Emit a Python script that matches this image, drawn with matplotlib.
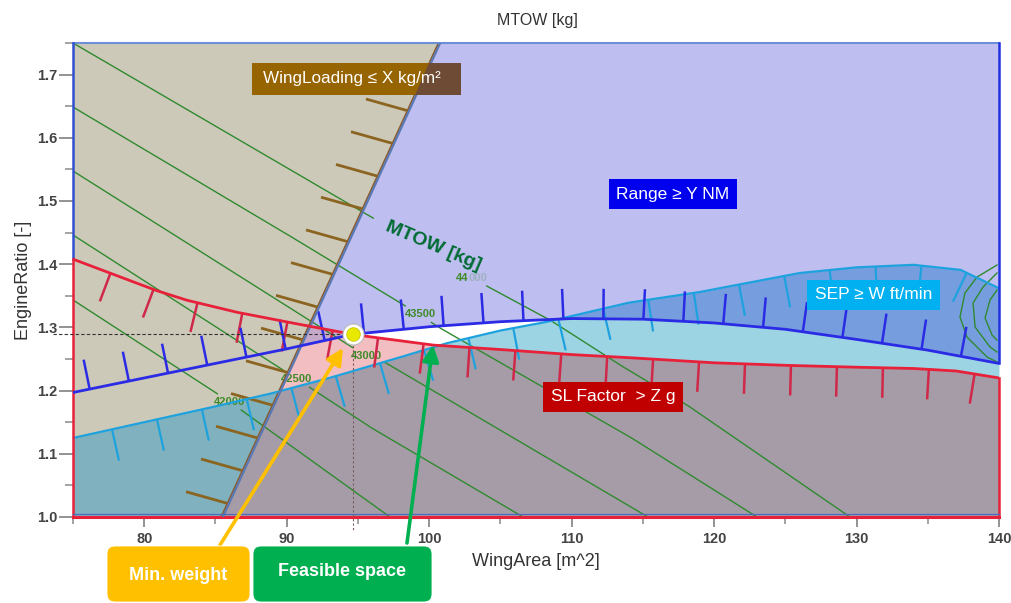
import itertools
import numpy as np
import matplotlib
matplotlib.use("Agg")
import matplotlib.pyplot as plt
from matplotlib.collections import LineCollection
from matplotlib.patches import FancyBboxPatch, Rectangle, Polygon
from matplotlib.ticker import MultipleLocator, FormatStrFormatter
from matplotlib.transforms import IdentityTransform

plt.rcParams['font.family'] = ['Liberation Sans', 'DejaVu Sans']

# ---------------- data (WingArea [m^2] , EngineRatio [-]) ----------------
sl_x = [75.0, 78.3, 80.9, 83.0, 86.5, 90.4, 94.63, 95.9, 100.3, 105.0, 110.0, 114.1,
        120.0, 125.0, 130.0, 134.0, 137.0, 140.0]
sl_y = [1.408, 1.380, 1.358, 1.343, 1.324, 1.307, 1.289, 1.285, 1.272, 1.265, 1.257, 1.252,
        1.244, 1.240, 1.237, 1.235, 1.231, 1.220]

range_x = [75.0, 80.0, 85.0, 90.0, 94.63, 100.0, 105.0, 110.0, 115.0, 120.0, 125.0, 130.0, 135.0, 140.0]
range_y = [1.197, 1.220, 1.243, 1.266, 1.289, 1.301, 1.309, 1.314, 1.313, 1.307, 1.297, 1.281, 1.264, 1.243]

sep_x = [75.0, 80.0, 85.0, 89.0, 93.0, 98.0, 101.25, 105.0, 108.3, 114.0, 119.0, 126.0,
         130.0, 134.0, 137.3, 140.0]
sep_y = [1.125, 1.150, 1.175, 1.196, 1.220, 1.253, 1.275, 1.295, 1.309, 1.339, 1.356, 1.386,
         1.395, 1.399, 1.391, 1.362]

wl_x = [85.4, 100.65]
wl_y = [1.0, 1.75]

# MTOW contour lines
mtow_levels = [44000, 43500, 43000, 42500, 42000]
mtow_44000_x = [75.0, 96.06, 102.87, 108.48, 113.40, 118.10, 129.54]
mtow_44000_y = [1.750, 1.4731, 1.3797, 1.3117, 1.2405, 1.1772, 1.0]
mtow_43500_x = [75.0, 89.53, 98.45, 100.76, 114.10, 123.01]
mtow_43500_y = [1.6487, 1.4541, 1.3323, 1.2991, 1.1266, 1.0]
mtow_43000_x = [75.0, 95.57, 96.97, 115.36]
mtow_43000_y = [1.5475, 1.2547, 1.2437, 1.0]
mtow_42500_x = [75.0, 90.72, 95.85, 106.59]
mtow_42500_y = [1.4462, 1.2184, 1.1424, 1.0]
mtow_42000_x = [75.0, 86.02, 97.25]
mtow_42000_y = [1.3434, 1.182, 1.0]
mtow_label_x = [102.73, 99.36, 95.57, 90.72, 86.02]
mtow_label_y = [1.378, 1.321, 1.2547, 1.2184, 1.182]
# contour bends at the right edge
edge_c1_x = [139.86, 138.46, 137.61, 137.26, 137.75, 139.16, 139.86]
edge_c1_y = [1.3987, 1.3797, 1.3544, 1.3165, 1.2848, 1.2532, 1.2453]
edge_c2_x = [139.86, 138.88, 138.18, 138.32, 139.37, 139.86]
edge_c2_y = [1.3861, 1.3639, 1.3386, 1.3006, 1.2690, 1.2611]
edge_c3_x = [139.86, 139.37, 139.02, 139.51, 139.86]
edge_c3_y = [1.3592, 1.3434, 1.3149, 1.2880, 1.2800]

opt_x = 94.63
opt_y = 1.289

x_ticks = [80, 90, 100, 110, 120, 130, 140]
y_ticks = [1.0, 1.1, 1.2, 1.3, 1.4, 1.5, 1.6, 1.7]

# ---------------- figure ----------------
W_PX, H_PX = 1012, 603
fig = plt.figure(figsize=(W_PX / 100, H_PX / 100), dpi=100)
ax = fig.add_axes([73 / W_PX, 1 - 517 / H_PX, 926 / W_PX, 474 / H_PX])
ax.set_xlim(75, 140)
ax.set_ylim(1.0, 1.75)
ax.set_facecolor('white')
for s in ax.spines.values():
    s.set_visible(False)

# ---------------- filled regions ----------------
xg = np.linspace(75, 140, 2601)
R = np.interp(xg, sl_x, sl_y)
B = np.interp(xg, range_x, range_y)
C = np.interp(xg, sep_x, sep_y)
Wl = np.interp(xg, wl_x, wl_y, left=1.0, right=1.75)

TAN, TEAL = '#CDC9B9', '#7FB2BE'
LAV, LAVRED = '#BEBEF0', '#C6A8C8'
MEDBLUE, MEDRED = '#769EDE', '#8E8EB8'
PINK, LCYAN, MAUVE = '#F2BEC1', '#9DD4E4', '#A69CA8'


def region_color(aW, aB, aC, aR):
    if aW:
        return TAN if aC else TEAL
    if aB:
        if aC:
            return LAV if aR else LAVRED
        return MEDBLUE if aR else MEDRED
    if aC:
        return None if aR else PINK
    return LCYAN if aR else MAUVE


for aW, aB, aC, aR in itertools.product([True, False], repeat=4):
    col = region_color(aW, aB, aC, aR)
    if col is None:
        continue
    lo = np.full_like(xg, 1.0)
    hi = np.full_like(xg, 1.75)
    for above, line in ((aW, Wl), (aB, B), (aC, C), (aR, R)):
        if above:
            lo = np.maximum(lo, line)
        else:
            hi = np.minimum(hi, line)
    ax.fill_between(xg, lo, hi, where=hi > lo, interpolate=True,
                    color=col, lw=0, zorder=1)


# ---------------- helpers ----------------
def densify(xs, ys, n=600):
    P = ax.transData.transform(np.column_stack([xs, ys]))
    s = np.concatenate([[0], np.cumsum(np.hypot(*np.diff(P, axis=0).T))])
    ss = np.linspace(0, s[-1], n)
    return np.interp(ss, s, xs), np.interp(ss, s, ys)


def hatch(xs, ys, spacing, length, side, color, lw, start=None, direction=None, z=3):
    P = ax.transData.transform(np.column_stack([xs, ys]))
    d_all = np.diff(P, axis=0)
    seg = np.hypot(d_all[:, 0], d_all[:, 1])
    s = np.concatenate([[0], np.cumsum(seg)])
    if start is None:
        start = spacing / 2
    pos = np.arange(start, s[-1] - 3, spacing)
    px = np.interp(pos, s, P[:, 0])
    py = np.interp(pos, s, P[:, 1])
    idx = np.clip(np.searchsorted(s, pos, side='right') - 1, 0, len(seg) - 1)
    d = d_all[idx]
    t = d / np.hypot(d[:, 0], d[:, 1])[:, None]
    if direction is None:
        nrm = np.column_stack([-t[:, 1], t[:, 0]]) * side
    else:
        v = np.asarray(direction, float)
        v = v / np.hypot(*v)
        nrm = np.tile(v, (len(pos), 1))
    a = np.column_stack([px, py])
    b = a + nrm * length
    inv = ax.transData.inverted()
    segs = np.stack([inv.transform(a), inv.transform(b)], axis=1)
    ax.add_collection(LineCollection(segs, colors=color, linewidths=lw,
                                     zorder=z, capstyle='butt'))


def contour_line(xs, ys, label=None, lx=None, ly=None, hide=None):
    xd, yd = densify(xs, ys, 800)
    P = ax.transData.transform(np.column_stack([xd, yd]))
    mask = np.zeros(len(xd), bool)
    if label is not None:
        L = ax.transData.transform((lx, ly))
        mask |= (np.abs(P[:, 0] - L[0]) < 18) & (np.abs(P[:, 1] - L[1]) < 8)
    if hide is not None:
        mask |= (xd > hide[0]) & (xd < hide[1])
    ax.plot(xd, np.where(mask, np.nan, yd), color='#2F8A2F', lw=1.0, zorder=2)


# ---------------- MTOW contours ----------------
mtow_x = [mtow_44000_x, mtow_43500_x, mtow_43000_x, mtow_42500_x, mtow_42000_x]
mtow_y = [mtow_44000_y, mtow_43500_y, mtow_43000_y, mtow_42500_y, mtow_42000_y]
for i, lev in enumerate(mtow_levels):
    hide = (96.1, 103.7) if lev == 44000 else None
    contour_line(mtow_x[i], mtow_y[i], lev, mtow_label_x[i], mtow_label_y[i], hide)
    if lev == 44000:
        ax.text(mtow_label_x[i], mtow_label_y[i], '44', fontsize=8,
                color='#3F8A2A', weight='bold', ha='right', va='center', zorder=2.5)
        ax.text(mtow_label_x[i], mtow_label_y[i], '000', fontsize=8, alpha=0.25,
                color='#3F8A2A', weight='bold', ha='left', va='center', zorder=2.5)
    else:
        ax.text(mtow_label_x[i], mtow_label_y[i], str(lev), fontsize=8,
                color='#3F8A2A', weight='bold', ha='center', va='center', zorder=2.5)
for ex, ey in ((edge_c1_x, edge_c1_y), (edge_c2_x, edge_c2_y), (edge_c3_x, edge_c3_y)):
    ax.plot(ex, ey, color='#2F8A2F', lw=1.0, zorder=2)

ax.text(100.27, 1.4288, 'MTOW [kg]', rotation=-23, fontsize=14, weight='bold',
        color='#006B33', ha='center', va='center', zorder=4, rotation_mode='anchor')

# ---------------- constraint lines + hatches ----------------
RED, RANGE_C, SEP_C, WL_C, WL_T = '#E8213A', '#2B2BE6', '#1EA2DE', '#5A78B4', '#8B6420'

ax.plot(wl_x, wl_y, color='#8A5A2A', lw=1.2, zorder=3)
ax.plot(np.array(wl_x) + 0.12, wl_y, color=WL_C, lw=1.6, zorder=3.1)
hatch(wl_x, wl_y, 36, 43, 1, WL_T, 2.0, start=15, direction=(-0.96, 0.27))

ax.plot(sep_x, sep_y, color=SEP_C, lw=1.6, zorder=3)
hatch(sep_x, sep_y, 46, 32, -1, SEP_C, 1.6, start=40)

ax.plot(sl_x, sl_y, color=RED, lw=2.0, zorder=3.2)
hatch(sl_x, sl_y, 46, 30, -1, '#D02848', 1.8, start=40)

ax.plot(range_x, range_y, color=RANGE_C, lw=2.0, zorder=3.3)
hatch(range_x, range_y, 40, 30, 1, RANGE_C, 1.8, start=17)

# outer borders
ax.plot([75, 140], [1.75, 1.75], color='#6C8FD8', lw=1.5, zorder=3, clip_on=False)
ax.plot([75, 75], [1.75, sl_y[0]], color='#3050D0', lw=1.8, zorder=3, clip_on=False)
ax.plot([75, 75], [sl_y[0], 1.0], color=RED, lw=1.8, zorder=3, clip_on=False)
ax.plot([140, 140], [1.75, range_y[-1]], color='#2030E0', lw=1.8, zorder=3, clip_on=False)
ax.plot([140, 140], [sl_y[-1], 1.0], color=RED, lw=1.8, zorder=3, clip_on=False)
ax.plot([75, 140], [1.0, 1.0], color=RED, lw=2.2, zorder=3, clip_on=False)
ax.plot([75, 140], [1.004, 1.004], color='#4A6AC0', lw=0.9, zorder=3.1, clip_on=False)

# optimum marker and guide lines
ax.plot([73.6, opt_x], [opt_y, opt_y], color='#333333', lw=0.8, ls=(0, (3, 2)),
        zorder=4, clip_on=False)
ax.plot([opt_x, opt_x], [1.307, 0.979], color='#7A5A5A', lw=0.8, ls=(0, (2, 2)),
        zorder=4, clip_on=False)
ax.scatter([opt_x], [opt_y], s=230, color='white', edgecolors='#BBBBBB',
           linewidths=0.8, zorder=6)
ax.scatter([opt_x], [opt_y], s=95, color='#E8E800', edgecolors='#C8C800',
           linewidths=0.6, zorder=7)

# ---------------- constraint label boxes ----------------
box_y0, box_y1 = 1.6677, 1.7184
box_x0, box_x1 = 87.56, 102.24
ax.add_patch(Rectangle((box_x0, box_y0), box_x1 - box_x0, box_y1 - box_y0,
                       facecolor='#966400', edgecolor='none', zorder=5))
xw0 = np.interp(box_y0, wl_y, wl_x)
xw1 = np.interp(box_y1, wl_y, wl_x)
ax.add_patch(Polygon([(xw0, box_y0), (box_x1, box_y0), (box_x1, box_y1), (xw1, box_y1)],
                     closed=True, facecolor='#6E4B34', edgecolor='none', zorder=5.1))
ax.text(88.34, (box_y0 + box_y1) / 2, 'WingLoading ≤ X kg/m²', color='white',
        fontsize=12.3, ha='left', va='center', zorder=5.2)


def label_box(x, y, txt, fc):
    ax.text(x, y, txt, color='white', fontsize=12.5, ha='center', va='center', zorder=5.5,
            bbox=dict(boxstyle='square,pad=0.45', fc=fc, ec='none'))


label_box(117.12, 1.511, 'Range ≥ Y NM', '#0000EE')
label_box(131.19, 1.3513, 'SEP ≥ W ft/min', '#00B0F0')
label_box(112.91, 1.1899, 'SL Factor  > Z g', '#C00000')

# ---------------- axes, ticks, labels ----------------
ax.set_xticks(x_ticks)
ax.set_yticks(y_ticks)
ax.xaxis.set_minor_locator(MultipleLocator(5))
ax.yaxis.set_minor_locator(MultipleLocator(0.05))
ax.yaxis.set_major_formatter(FormatStrFormatter('%.1f'))
ax.tick_params(axis='both', which='major', direction='out', color='#8A8A8A', width=1.3,
               labelsize=10.5, labelcolor='#444444')
ax.tick_params(axis='x', which='major', length=7, pad=4)
ax.tick_params(axis='y', which='major', length=10, pad=1)
ax.tick_params(axis='both', which='minor', direction='out', color='#8A8A8A', width=1.1)
ax.tick_params(axis='x', which='minor', length=5)
ax.tick_params(axis='y', which='minor', length=6)
for lab in ax.get_xticklabels() + ax.get_yticklabels():
    lab.set_fontweight('bold')

ax.set_xlabel('WingArea [m^2]', fontsize=13, color='#333333', labelpad=5)
ax.set_ylabel('EngineRatio [-]', fontsize=13, color='#333333', labelpad=4)
fig.text(537 / W_PX, 1 - 20 / H_PX, 'MTOW [kg]', fontsize=11.5, color='#333333',
         ha='center', va='center')

# ---------------- callouts ----------------
for (x0, w, fc, txt, tx, ty) in ((107, 143, '#FFC000', 'Min. weight', 178.5, 28),
                                 (253, 179, '#00B050', 'Feasible space', 342.5, 31)):
    fig.add_artist(FancyBboxPatch((x0, 1), w, 56, boxstyle='round,pad=0,rounding_size=8',
                                  transform=IdentityTransform(), facecolor=fc,
                                  edgecolor='#FFFFFF', linewidth=0.6, zorder=8))
    fig.text(tx / W_PX, ty / H_PX, txt, color='white', fontsize=13, weight='bold',
             ha='center', va='center', zorder=9)

ax.annotate('', xy=(93.95, 1.2674), xycoords='data', xytext=(220, 58),
            textcoords='figure pixels', annotation_clip=False, zorder=7,
            arrowprops=dict(arrowstyle='-|>,head_length=0.7,head_width=0.35',
                            color='#FFC000', lw=2.6, shrinkA=0, shrinkB=0,
                            mutation_scale=14))
ax.annotate('', xy=(100.27, 1.2722), xycoords='data', xytext=(407, 60),
            textcoords='figure pixels', annotation_clip=False, zorder=7,
            arrowprops=dict(arrowstyle='-|>,head_length=0.7,head_width=0.35',
                            color='#00B050', lw=2.6, shrinkA=0, shrinkB=0,
                            mutation_scale=14))

fig.savefig('out.png', dpi=100)
